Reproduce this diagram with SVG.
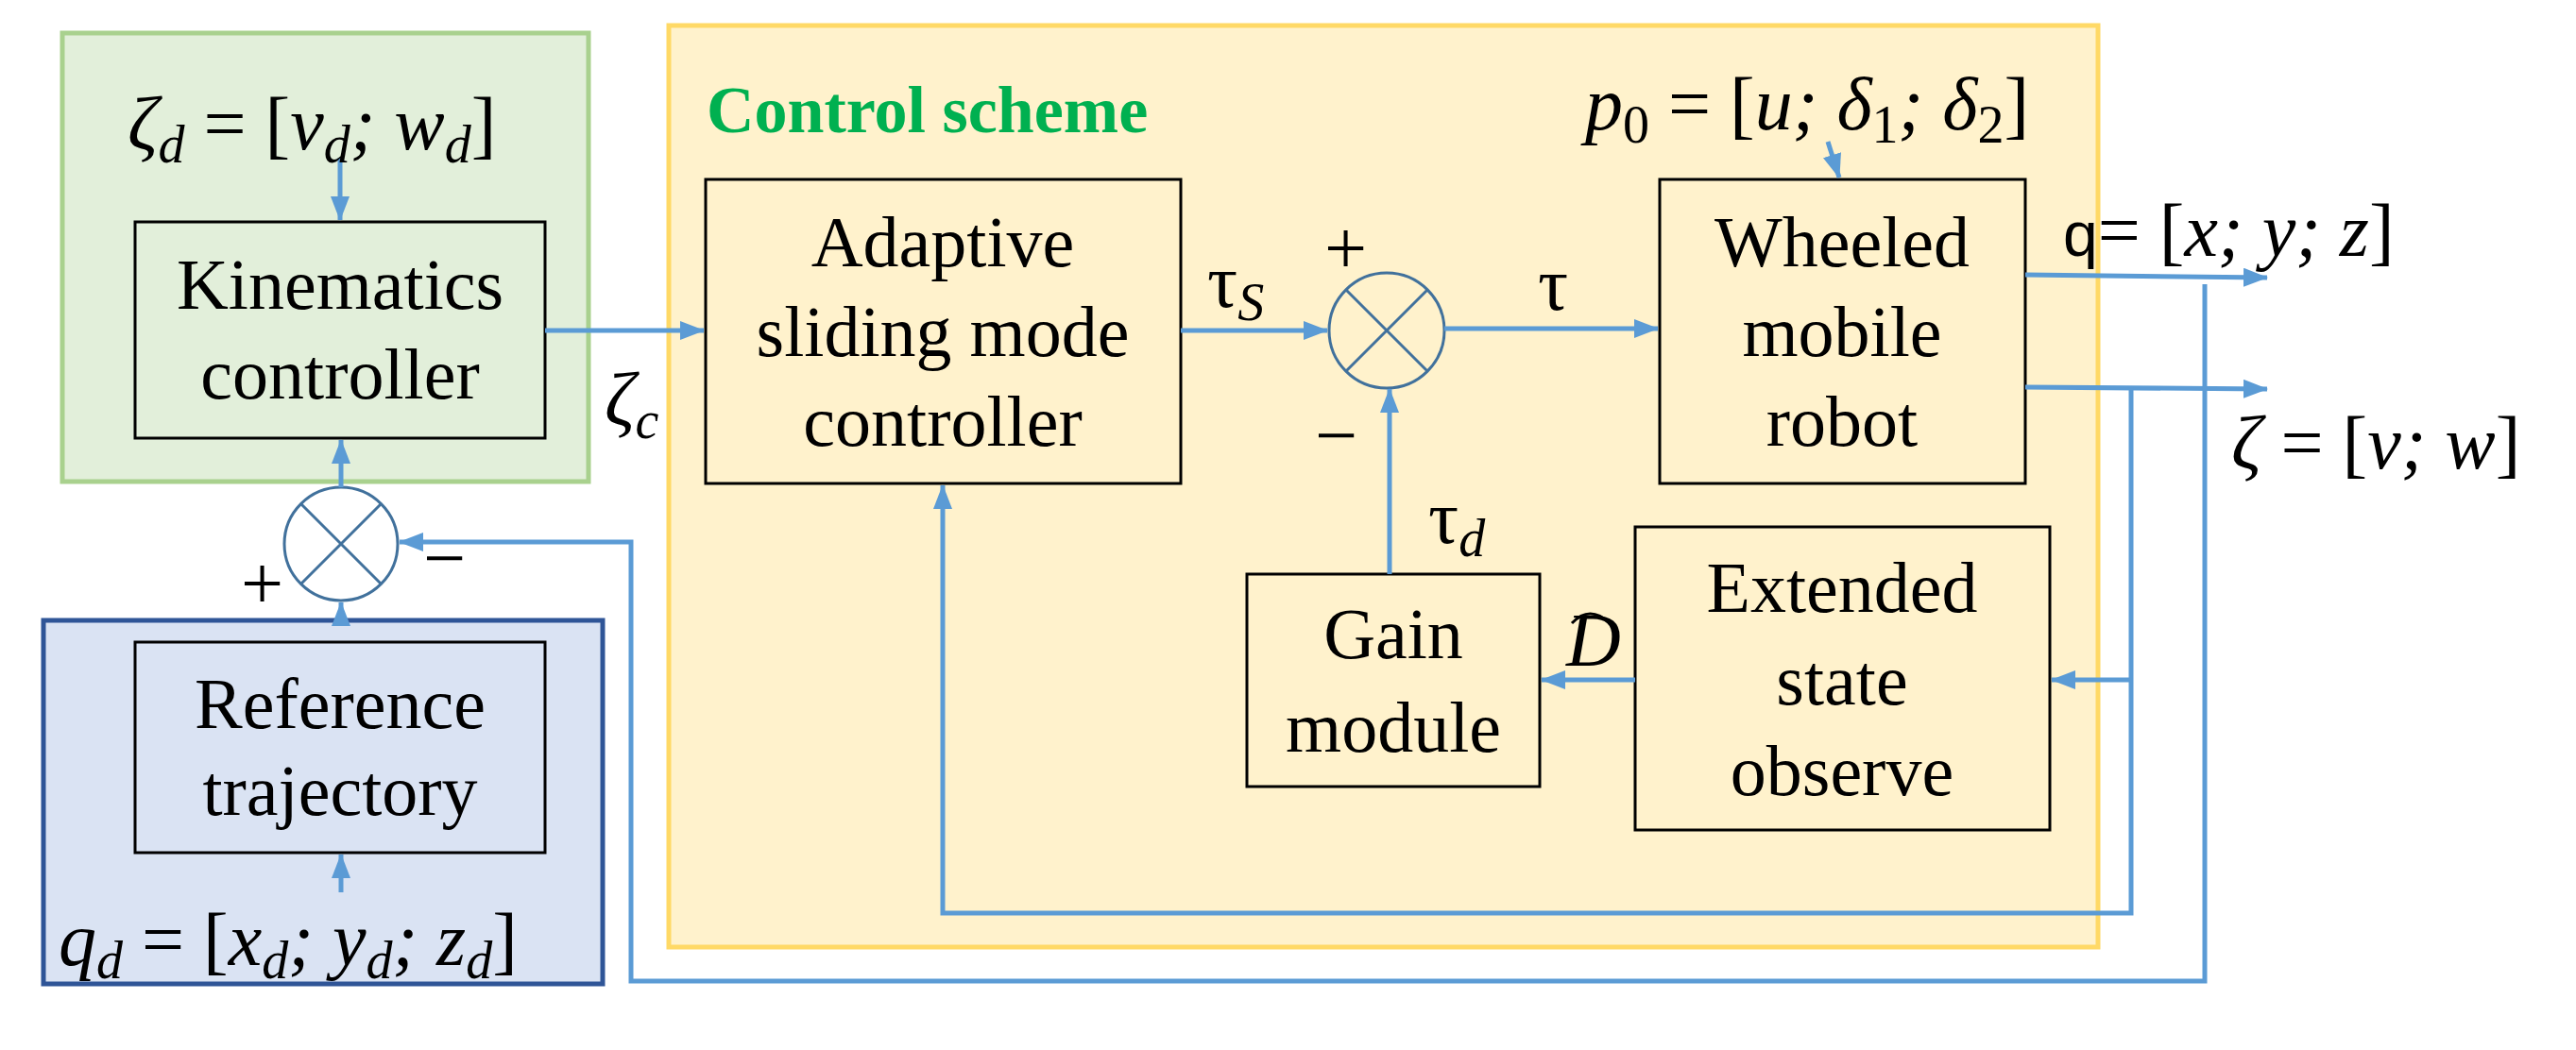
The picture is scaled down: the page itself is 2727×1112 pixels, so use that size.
<svg xmlns="http://www.w3.org/2000/svg" width="2727" height="1112" viewBox="0 0 2727 1112">
<style>
.t{font-family:"Liberation Serif",serif;font-size:76px;text-anchor:middle;fill:#000}
.m{font-family:"Liberation Serif",serif;font-style:italic;font-size:80px;fill:#000}
.r{font-family:"Liberation Serif",serif;font-size:80px;fill:#000}
.b{fill:none;stroke:#000;stroke-width:3}
.c{fill:none;stroke:#5B9BD5;stroke-width:5}
</style>
<defs><marker id="a" markerWidth="26" markerHeight="20" refX="25" refY="10" orient="auto" markerUnits="userSpaceOnUse"><path d="M0,0 L26,10 L0,20 z" fill="#5B9BD5"/></marker></defs>
<rect x="66" y="35" width="557" height="475" fill="#E2EFDA" stroke="#A9D18E" stroke-width="5"/>
<rect x="46" y="657" width="592" height="385" fill="#DAE3F3" stroke="#2F5597" stroke-width="5"/>
<rect x="708" y="27" width="1513" height="976" fill="#FFF2CC" stroke="#FFD966" stroke-width="5"/>
<text x="748" y="140" font-family="Liberation Serif,serif" font-weight="bold" font-size="70" fill="#00B050">Control scheme</text>
<g id="kin"><rect class="b" x="143" y="235" width="434" height="229"/><text class="t" x="360" y="327">Kinematics</text><text class="t" x="360" y="422">controller</text></g>
<g id="ref"><rect class="b" x="143" y="680" width="434" height="223"/><text class="t" x="360" y="771">Reference</text><text class="t" x="360" y="863">trajectory</text></g>
<g id="asm"><rect class="b" x="747" y="190" width="503" height="322"/><text class="t" x="998" y="282">Adaptive</text><text class="t" x="998" y="377">sliding mode</text><text class="t" x="998" y="472">controller</text></g>
<g id="wmr"><rect class="b" x="1757" y="190" width="387" height="322"/><text class="t" x="1950" y="282">Wheeled</text><text class="t" x="1950" y="377">mobile</text><text class="t" x="1950" y="472">robot</text></g>
<g id="gain"><rect class="b" x="1320" y="608" width="310" height="225"/><text class="t" x="1475" y="697">Gain</text><text class="t" x="1475" y="796">module</text></g>
<g id="eso"><rect class="b" x="1731" y="558" width="439" height="321"/><text class="t" x="1950" y="648">Extended</text><text class="t" x="1950" y="746">state</text><text class="t" x="1950" y="842">observe</text></g>
<g id="sum1"><circle cx="361" cy="576" r="60" fill="#fff" stroke="#41719C" stroke-width="3"/><path d="M319,534 L403,618 M403,534 L319,618" stroke="#41719C" stroke-width="3"/></g>
<g id="sum2"><circle cx="1468" cy="350" r="61" fill="none" stroke="#41719C" stroke-width="3"/><path d="M1425,307 L1511,393 M1511,307 L1425,393" stroke="#41719C" stroke-width="3"/></g>
<g id="connectors">
<path class="c" d="M360,167 V233" marker-end="url(#a)"/>
<path class="c" d="M577,350 H745" marker-end="url(#a)"/>
<path class="c" d="M1250,350 H1405" marker-end="url(#a)"/>
<path class="c" d="M1529,348 H1755" marker-end="url(#a)"/>
<path class="c" d="M1471,608 V412" marker-end="url(#a)"/>
<path class="c" d="M1731,720 H1632" marker-end="url(#a)"/>
<path class="c" d="M1935,150 L1947,188" marker-end="url(#a)"/>
<path class="c" d="M2144,291 L2400,294" marker-end="url(#a)"/>
<path class="c" d="M2144,410 L2400,412" marker-end="url(#a)"/>
<path class="c" d="M2256,410 V967 H998 V514" marker-end="url(#a)"/>
<path class="c" d="M2256,720 H2172" marker-end="url(#a)"/>
<path class="c" d="M2334,301 V1039 H668 V574 H423" marker-end="url(#a)"/>
<path class="c" d="M361,657 V638" marker-end="url(#a)"/>
<path class="c" d="M361,516 V466" marker-end="url(#a)"/>
<path class="c" d="M361,945 V905" marker-end="url(#a)"/>
</g>
<g id="labels">
<text class="m" x="135" y="158">ζ<tspan font-size="56" dy="14">d</tspan><tspan font-style="normal" dy="-14"> = [</tspan>v<tspan font-size="56" dy="14">d</tspan><tspan dy="-14">; w</tspan><tspan font-size="56" dy="14">d</tspan><tspan dy="-14" font-style="normal">]</tspan></text>
<text class="m" x="62" y="1022">q<tspan font-size="56" dy="14">d</tspan><tspan font-style="normal" dy="-14"> = [</tspan>x<tspan font-size="56" dy="14">d</tspan><tspan dy="-14">; y</tspan><tspan font-size="56" dy="14">d</tspan><tspan dy="-14">; z</tspan><tspan font-size="56" dy="14">d</tspan><tspan dy="-14" font-style="normal">]</tspan></text>
<text class="r" x="255" y="645" font-size="72">+</text>
<text class="r" x="448" y="618" font-size="72">−</text>
<text class="m" x="640" y="450">ζ<tspan font-size="56" dy="14">c</tspan></text>
<text class="r" x="1278" y="325">τ<tspan font-style="italic" font-size="56" dy="14">S</tspan></text>
<text class="r" x="1402" y="290" font-size="72">+</text>
<text class="r" x="1392" y="488" font-size="72">−</text>
<text class="r" x="1628" y="328">τ</text>
<text class="r" x="1512" y="575">τ<tspan font-style="italic" font-size="56" dy="14">d</tspan></text>
<text class="m" x="1658" y="705">D</text><path d="M1664,660 Q1683,640 1704,660" fill="none" stroke="#000" stroke-width="3"/>
<text class="m" x="1678" y="137">p<tspan font-style="normal" font-size="56" dy="14">0</tspan><tspan font-style="normal" dy="-14"> = [</tspan>u; δ<tspan font-style="normal" font-size="56" dy="14">1</tspan><tspan dy="-14">; δ</tspan><tspan font-style="normal" font-size="56" dy="14">2</tspan><tspan font-style="normal" dy="-14">]</tspan></text>
<text x="2184" y="271" font-family="Liberation Sans,sans-serif" font-size="66">q<tspan font-family="Liberation Serif,serif" font-size="80">= [</tspan><tspan font-family="Liberation Serif,serif" font-style="italic" font-size="80">x; y; z</tspan><tspan font-family="Liberation Serif,serif" font-size="80">]</tspan></text>
<text class="m" x="2362" y="496">ζ<tspan font-style="normal"> = [</tspan>v; w<tspan font-style="normal">]</tspan></text>
</g>
</svg>
